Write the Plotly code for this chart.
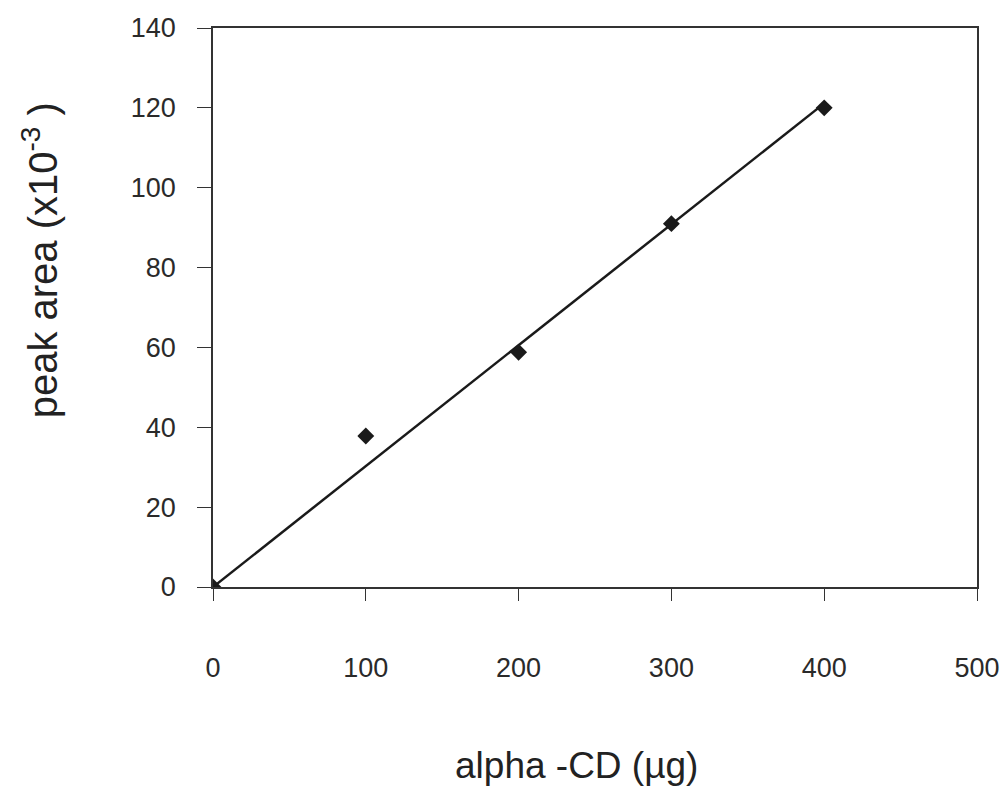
import numpy as np
import plotly.graph_objects as go

amount_ug = [0, 100, 200, 300, 400]
peak_area = [0, 37.8, 58.8, 91.0, 120.0]
x_ticks = [0, 100, 200, 300, 400, 500]
y_ticks = [0, 20, 40, 60, 80, 100, 120, 140]

# linear trend line through the origin (least squares)
xa = np.array(amount_ug, dtype=float)
ya = np.array(peak_area, dtype=float)
slope = float((xa * ya).sum() / (xa * xa).sum())
fit_x = [0, 400]
fit_y = [slope * v for v in fit_x]

font = "Liberation Sans, Arial, sans-serif"
ink = "#1a1a1a"

fig = go.Figure()
fig.add_trace(go.Scatter(x=fit_x, y=fit_y, mode="lines",
                         line=dict(color=ink, width=2.5), showlegend=False))
fig.add_trace(go.Scatter(x=amount_ug, y=peak_area, mode="markers",
                         marker=dict(symbol="diamond", size=13, color=ink),
                         showlegend=False))

fig.update_layout(
    width=1004, height=798,
    margin=dict(l=213, r=27, t=28, b=211, autoexpand=False),
    paper_bgcolor="white", plot_bgcolor="white",
    font=dict(family=font, color="#2a2a2a", size=26),
    xaxis=dict(range=[0, 500], tickvals=x_ticks, showgrid=False, zeroline=False,
               showline=True, linecolor="#333", linewidth=1.5, mirror=True,
               ticks="outside", ticklen=12, tickcolor="#333", tickwidth=1.2,
               ticklabelstandoff=44, tickfont=dict(size=27, family=font),
               automargin=False),
    yaxis=dict(range=[0, 140], tickvals=y_ticks, showgrid=False, zeroline=False,
               showline=True, linecolor="#333", linewidth=1.5, mirror=True,
               ticks="outside", ticklen=14, tickcolor="#333", tickwidth=1.2,
               ticklabelstandoff=16, tickfont=dict(size=27, family=font),
               automargin=False),
    annotations=[
        dict(text="alpha -CD (µg)", xref="paper", yref="paper", x=0.476, y=-0.320,
             showarrow=False, font=dict(size=37, family=font, color="#222"),
             xanchor="center", yanchor="middle"),
        dict(text="peak area (x10<sup>-3</sup> )", xref="paper", yref="paper",
             x=-0.226, y=0.585, textangle=-90, showarrow=False,
             font=dict(size=40, family=font, color="#222"),
             xanchor="center", yanchor="middle"),
    ],
)

fig.write_html("out.html",
               config={"displayModeBar": False},
               post_script="document.body.style.margin='0';document.body.style.overflow='hidden';")
